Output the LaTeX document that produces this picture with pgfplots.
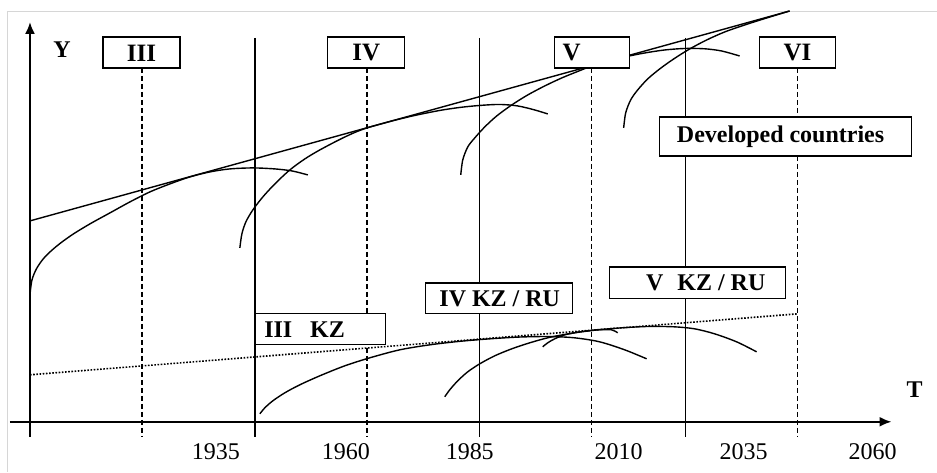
\documentclass[border=0pt]{standalone}
\usepackage{pgfplots}
\pgfplotsset{compat=1.18}
\usepackage{fontspec}
\setmainfont{Liberation Serif}
\usetikzlibrary{arrows.meta}
\definecolor{framegray}{HTML}{D6D6D6}
\begin{document}
\begin{tikzpicture}
\begin{axis}[
  scale only axis, width=468.5pt, height=236pt,
  xmin=0, xmax=937, ymin=0, ymax=472, y dir=reverse,
  hide axis, clip=false,
]
% background
\addplot[fill=white, draw=none] coordinates {(0,0) (937,0) (937,472) (0,472)} \closedcycle;
% frame
\addplot[framegray, line width=0.5pt] coordinates {(8,472) (8,11) (937,11)};
% solid vertical lines
\addplot[black, line width=0.75pt] coordinates {(255,38) (255,437)};
\addplot[black, line width=0.75pt] coordinates {(480,38) (480,437)};
\addplot[black, line width=0.75pt] coordinates {(686,38) (686,437)};
% dashed vertical lines
\addplot[black, line width=0.75pt, dash pattern=on 2.5pt off 1.5pt] coordinates {(142,68) (142,437)};
\addplot[black, line width=0.75pt, dash pattern=on 2.5pt off 1.5pt] coordinates {(367,68) (367,437)};
\addplot[black, line width=0.75pt, dash pattern=on 2.5pt off 1.5pt] coordinates {(592,68) (592,437)};
\addplot[black, line width=0.75pt, dash pattern=on 2.5pt off 1.5pt] coordinates {(798,68) (798,437)};
% developed countries envelope line
\addplot[black, line width=0.7pt] coordinates {(30,221) (790,11)};
% developed curves
\addplot[black, line width=0.7pt, smooth] coordinates {(30,295) (32,280) (37,268) (45,257) (57,246) (72,235) (90,224) (110,213) (130,202) (150,192) (170,184) (190,177) (210,172) (230,169) (253,168) (275,169) (292,171) (308,175)};
\addplot[black, line width=0.7pt, smooth] coordinates {(240,248) (242,234) (246,222) (253,210) (263,197) (275,184) (290,170) (305,159) (320,150) (340,139.5) (355,132.5) (367,128) (380,124.3) (395,120.3) (415,115.5) (440,110.5) (460,107.5) (480,105.5) (500,104.5) (518,106) (535,110) (548,114)};
\addplot[black, line width=0.7pt, smooth] coordinates {(461,175) (463,160) (468,147) (475,138) (485,127) (497,116) (512,105) (528,95) (545,86) (562,78) (578,71.5) (592,66) (607,61.8) (625,57) (645,53) (665,50) (685,48.5) (705,48.8) (722,51) (740,56)};
\addplot[black, line width=0.7pt, smooth] coordinates {(624,128) (626,113) (631,100) (638,90) (648,79) (660,69) (674,59) (690,49) (707,40) (725,32) (745,25) (767,18) (790,11)};
% KZ dotted envelope
\addplot[black, line width=0.8pt, dash pattern=on 0.8pt off 0.8pt] coordinates {(30,375) (798,314)};
% KZ curves
\addplot[black, line width=0.7pt, smooth] coordinates {(260,414) (265,408) (273,401) (285,393) (300,385) (320,376) (345,366) (370,358) (400,350) (430,345) (460,341.5) (490,339) (520,337.2) (550,336.7) (575,338) (600,342) (625,350) (647,359)};
\addplot[black, line width=0.7pt, smooth] coordinates {(445,397) (450,390) (458,381) (468,372) (480,364) (495,356) (512,349) (530,343) (550,337.5) (575,333) (600,329.8) (625,327.8) (650,326.6) (675,327) (695,329) (715,334) (737,342) (757,352)};
\addplot[black, line width=0.7pt, smooth] coordinates {(543,347) (548,343) (555,339) (565,335) (580,332) (598,330) (612,330) (618,333)};
% axes
\addplot[black, line width=1pt, -{Latex[length=6pt,width=5pt]}] coordinates {(30,437) (30,22)};
\addplot[black, line width=1pt, -{Latex[length=6pt,width=5pt]}] coordinates {(10,422) (892,422)};
% boxes
\draw[fill=white, line width=0.65pt] (103,37) rectangle (180,68);
\draw[fill=white, line width=0.65pt] (328,37) rectangle (405,68);
\draw[fill=white, line width=0.65pt] (555,37) rectangle (630,68);
\draw[fill=white, line width=0.65pt] (760,37) rectangle (836,68);
\draw[fill=white, line width=0.65pt] (660,117) rectangle (912,156);
\draw[fill=white, line width=0.65pt] (255,314) rectangle (386,345);
\draw[fill=white, line width=0.65pt] (426,283) rectangle (573,314);
\draw[fill=white, line width=0.65pt] (610,267) rectangle (786,299);
% box texts
\node[font=\fontsize{12.5}{14}\selectfont\bfseries, inner sep=0pt] at (141.5,53) {III};
\node[font=\fontsize{12.5}{14}\selectfont\bfseries, inner sep=0pt] at (366.5,53) {IV};
\node[font=\fontsize{12.5}{14}\selectfont\bfseries, inner sep=0pt] at (572,53) {V};
\node[font=\fontsize{12.5}{14}\selectfont\bfseries, inner sep=0pt] at (798,53) {VI};
\node[font=\fontsize{12}{14}\selectfont\bfseries, inner sep=0pt] at (781,137) {Developed countries};
\node[font=\fontsize{12}{14}\selectfont\bfseries, inner sep=0pt, anchor=west] at (264,330) {III\hspace{9pt}KZ};
\node[font=\fontsize{12}{14}\selectfont\bfseries, inner sep=0pt] at (500,299) {IV KZ / RU};
\node[font=\fontsize{12}{14}\selectfont\bfseries, inner sep=0pt, anchor=west] at (646,283) {V\hspace{7pt}KZ / RU};
\node[font=\fontsize{12}{14}\selectfont\bfseries, inner sep=0pt] at (62,50) {Y};
\node[font=\fontsize{12}{14}\selectfont\bfseries, inner sep=0pt] at (915,390) {T};
% years
\node[font=\fontsize{12}{14}\selectfont, inner sep=0pt] at (216,452) {1935};
\node[font=\fontsize{12}{14}\selectfont, inner sep=0pt] at (346,452) {1960};
\node[font=\fontsize{12}{14}\selectfont, inner sep=0pt] at (470,452) {1985};
\node[font=\fontsize{12}{14}\selectfont, inner sep=0pt] at (619,452) {2010};
\node[font=\fontsize{12}{14}\selectfont, inner sep=0pt] at (744,452) {2035};
\node[font=\fontsize{12}{14}\selectfont, inner sep=0pt] at (873,452) {2060};
\end{axis}
\end{tikzpicture}
\end{document}
